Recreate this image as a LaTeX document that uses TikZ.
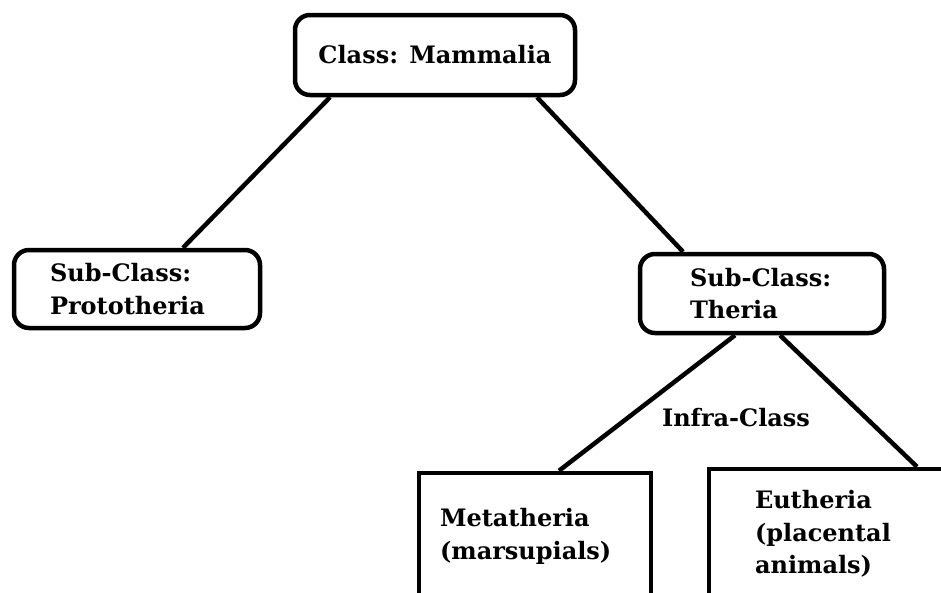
\documentclass[tikz,border=0pt]{standalone}
\usepackage{fontspec}
\setmainfont{DejaVu Serif}
\usetikzlibrary{calc}
\begin{document}
\begin{tikzpicture}[x=1pt,y=-1pt,
    box/.style={draw,line width=4.5pt,align=left,font=\bfseries\fontsize{24}{32.5}\selectfont,inner ysep=0pt},
    rbox/.style={box,rounded corners=15pt},
    link/.style={line width=4.5pt}]
            \useasboundingbox (0,0) rectangle (941,592);
            \node[rbox,minimum width=280pt,minimum height=80pt] (mam) at (435,55) {Class: Mammalia};
            \node[rbox,minimum width=246pt,minimum height=78pt,inner xsep=36pt,text width=174pt] (proto) at (137,289) {Sub-Class:\\Prototheria};
            \node[rbox,minimum width=244pt,minimum height=79pt,inner xsep=50pt,text width=144pt] (theria) at (762,293.5) {Sub-Class:\\Theria};
            \node[box,minimum width=232pt,minimum height=127pt,inner xsep=21pt,text width=190pt] (meta) at (535,536.5) {Metatheria\\(marsupials)};
            \node[box,minimum width=250pt,minimum height=130pt,inner xsep=46pt,text width=158pt] (eu) at (834,534) {Eutheria\\(placental\\animals)};
            \node[font=\bfseries\fontsize{24}{32}\selectfont] (infra) at (736,418) {Infra-Class};
            \draw[link] ([xshift=-105pt]mam.south) -- ([xshift=46pt]proto.north);
            \draw[link] ([xshift=102pt]mam.south) -- ([xshift=-79pt]theria.north);
            \draw[link] ([xshift=-27pt]theria.south) -- ([xshift=24pt]meta.north);
            \draw[link] ([xshift=18pt]theria.south) -- ([xshift=83pt]eu.north);
\end{tikzpicture}
\end{document}
